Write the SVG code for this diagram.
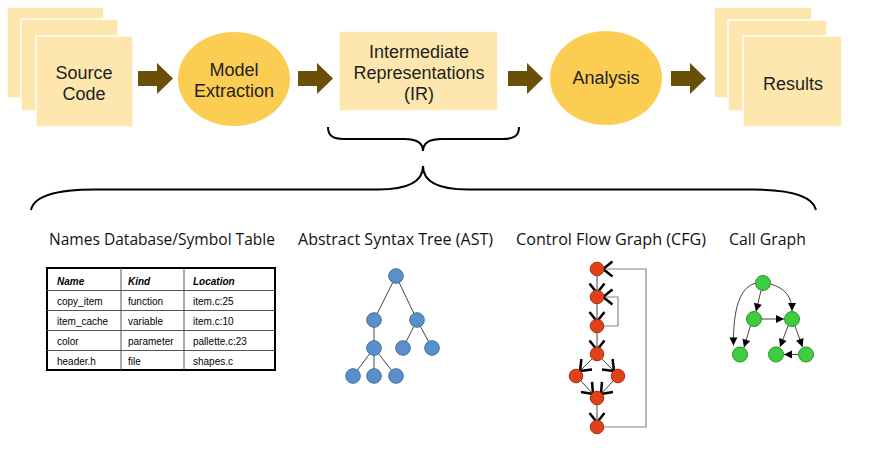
<svg xmlns="http://www.w3.org/2000/svg" width="871" height="452" viewBox="0 0 871 452">
<style>
.pale{fill:#fde7ae;stroke:#ffffff;stroke-width:1.5}
.ell{fill:#fbcd52}
.big{fill:#6a4f06}
.lbl{font-family:"Liberation Sans",Arial,sans-serif;font-size:18px;fill:#231f20;text-anchor:middle}
.hd{font-family:"Open Sans","Liberation Sans",sans-serif;font-size:15.5px;fill:#111}
.brace{fill:none;stroke:#000;stroke-width:2}
.tb{font-family:"Liberation Sans",Arial,sans-serif;font-size:10px;fill:#000}
.th{font-weight:bold;font-style:italic}
.ast{fill:#5b8fcb;stroke:#3c6ea8;stroke-width:1}
.cfg{fill:#e0401a;stroke:#a82e10;stroke-width:1}
.cg{fill:#3fcc3f;stroke:#2a8f2a;stroke-width:1}
.e{stroke:#444;stroke-width:1;fill:none}
.fb{stroke:#888;stroke-width:1.2;fill:none}
</style>
<defs>
<polygon id="arr" points="0,71 19,71 19,63 35,78.5 19,94 19,86 0,86"/>
<marker id="chev" markerUnits="userSpaceOnUse" markerWidth="24" markerHeight="24" refX="12" refY="12" orient="auto" viewBox="0 0 24 24" overflow="visible">
<path d="M2.5,4.5 L12,12 L2.5,19.5" fill="none" stroke="#000" stroke-width="2.5"/>
</marker>
<marker id="tri" markerUnits="userSpaceOnUse" markerWidth="10" markerHeight="10" refX="8" refY="4" orient="auto" viewBox="0 0 10 8" overflow="visible">
<path d="M0,0 L8,4 L0,8 Z" fill="#000"/>
</marker>
</defs>

<g id="source-code">
<rect class="pale" x="7" y="7" width="97" height="91"/>
<rect class="pale" x="21" y="19" width="97" height="92"/>
<rect class="pale" x="36" y="36" width="97" height="91"/>
<text class="lbl" x="84" y="79">Source</text>
<text class="lbl" x="84" y="100">Code</text>
</g>
<g id="model-extraction">
<ellipse class="ell" cx="234" cy="79" rx="56" ry="47"/>
<text class="lbl" x="234" y="76">Model</text>
<text class="lbl" x="234" y="97">Extraction</text>
</g>
<g id="ir">
<rect class="pale" x="339" y="31" width="159" height="80"/>
<text class="lbl" x="419" y="58">Intermediate</text>
<text class="lbl" x="419" y="79">Representations</text>
<text class="lbl" x="419" y="100">(IR)</text>
</g>
<g id="analysis">
<ellipse class="ell" cx="606" cy="78" rx="56" ry="47"/>
<text class="lbl" x="606" y="84">Analysis</text>
</g>
<g id="results">
<rect class="pale" x="714" y="7" width="98" height="91"/>
<rect class="pale" x="728" y="20" width="99" height="91"/>
<rect class="pale" x="743" y="36" width="99" height="91"/>
<text class="lbl" x="793" y="90">Results</text>
</g>

<g id="connectors">
<use href="#arr" class="big" x="138"/>
<use href="#arr" class="big" x="298"/>
<use href="#arr" class="big" x="508"/>
<use href="#arr" class="big" x="671"/>
<path class="brace" d="M328,127 C328,135 332,139 344,139 L404,139 C416,139 423,143 423,151 C423,143 430,139 442,139 L503,139 C515,139 519,135 519,127"/>
<path class="brace" d="M31,210 C34,196 55,189.5 95,189.5 L378,189.5 C410,189.5 423,181 423,166 C423,181 436,189.5 468,189.5 L752,189.5 C792,189.5 813,196 816,210"/>
</g>

<g id="headings">
<text class="hd" x="49" y="245" textLength="226" lengthAdjust="spacingAndGlyphs">Names Database/Symbol Table</text>
<text class="hd" x="298" y="245" textLength="195" lengthAdjust="spacingAndGlyphs">Abstract Syntax Tree (AST)</text>
<text class="hd" x="516" y="245" textLength="190" lengthAdjust="spacingAndGlyphs">Control Flow Graph (CFG)</text>
<text class="hd" x="729" y="245" textLength="77" lengthAdjust="spacingAndGlyphs">Call Graph</text>
</g>

<g id="symbol-table">
<rect x="47" y="268" width="228" height="102" fill="#fff" stroke="#000" stroke-width="2"/>
<g stroke="#555" stroke-width="1">
<line x1="47" y1="290.5" x2="275" y2="290.5"/>
<line x1="47" y1="310.5" x2="275" y2="310.5"/>
<line x1="47" y1="330.5" x2="275" y2="330.5"/>
<line x1="47" y1="350.5" x2="275" y2="350.5"/>
<line x1="121" y1="268" x2="121" y2="370"/>
<line x1="184" y1="268" x2="184" y2="370"/>
</g>
<text class="tb th" x="57" y="285">Name</text>
<text class="tb th" x="128" y="285">Kind</text>
<text class="tb th" x="193" y="285">Location</text>
<text class="tb" x="57" y="305">copy_item</text>
<text class="tb" x="128" y="305">function</text>
<text class="tb" x="193" y="305">item.c:25</text>
<text class="tb" x="57" y="325">item_cache</text>
<text class="tb" x="128" y="325">variable</text>
<text class="tb" x="193" y="325">item.c:10</text>
<text class="tb" x="57" y="345">color</text>
<text class="tb" x="128" y="345">parameter</text>
<text class="tb" x="193" y="345">pallette.c:23</text>
<text class="tb" x="57" y="365">header.h</text>
<text class="tb" x="128" y="365">file</text>
<text class="tb" x="193" y="365">shapes.c</text>
</g>

<g id="ast">
<g class="e">
<line x1="396" y1="276" x2="374" y2="320"/>
<line x1="396" y1="276" x2="417" y2="320"/>
<line x1="374" y1="320" x2="374" y2="348"/>
<line x1="417" y1="320" x2="403" y2="348"/>
<line x1="417" y1="320" x2="432" y2="348"/>
<line x1="374" y1="348" x2="353" y2="376"/>
<line x1="374" y1="348" x2="374" y2="376"/>
<line x1="374" y1="348" x2="396" y2="376"/>
</g>
<circle class="ast" cx="396" cy="276" r="7.3"/>
<circle class="ast" cx="374" cy="320" r="7.3"/>
<circle class="ast" cx="417" cy="320" r="7.3"/>
<circle class="ast" cx="374" cy="348" r="7.3"/>
<circle class="ast" cx="403" cy="348" r="7.3"/>
<circle class="ast" cx="432" cy="348" r="7.3"/>
<circle class="ast" cx="353" cy="376" r="7.3"/>
<circle class="ast" cx="374" cy="376" r="7.3"/>
<circle class="ast" cx="396" cy="376" r="7.3"/>
</g>

<g id="cfg">
<path class="fb" d="M604,326 L618,326 L618,297 L603,297" marker-end="url(#chev)"/>
<path class="fb" d="M604,427 L646,427 L646,269 L603,269" marker-end="url(#chev)"/>
<g class="e">
<line x1="597" y1="276" x2="597" y2="293" marker-end="url(#chev)"/>
<line x1="597" y1="304" x2="597" y2="321.5" marker-end="url(#chev)"/>
<line x1="597" y1="333" x2="597" y2="350" marker-end="url(#chev)"/>
<line x1="592" y1="359" x2="580" y2="371" marker-end="url(#chev)"/>
<line x1="602" y1="359" x2="614" y2="371" marker-end="url(#chev)"/>
<line x1="581" y1="381" x2="593" y2="394" marker-end="url(#chev)"/>
<line x1="613" y1="381" x2="601" y2="394" marker-end="url(#chev)"/>
<line x1="597" y1="405" x2="597" y2="422.5" marker-end="url(#chev)"/>
</g>
<circle class="cfg" cx="597" cy="269" r="6.8"/>
<circle class="cfg" cx="597" cy="297" r="6.8"/>
<circle class="cfg" cx="597" cy="326" r="6.8"/>
<circle class="cfg" cx="597" cy="354" r="6.8"/>
<circle class="cfg" cx="576" cy="376" r="6.8"/>
<circle class="cfg" cx="618" cy="376" r="6.8"/>
<circle class="cfg" cx="597" cy="398" r="6.8"/>
<circle class="cfg" cx="597" cy="427" r="6.8"/>
</g>

<g id="call-graph">
<g class="e">
<path d="M756,283 C740,287 733,308 733.5,345.5" marker-end="url(#tri)"/>
<path d="M770.5,284 C785,288 792,297 792,311" marker-end="url(#tri)"/>
<line x1="761" y1="290.5" x2="756" y2="311.5" marker-end="url(#tri)"/>
<line x1="761.5" y1="319" x2="784" y2="319" marker-end="url(#tri)"/>
<line x1="750.5" y1="325.5" x2="744" y2="347.5" marker-end="url(#tri)"/>
<line x1="788" y1="326" x2="780" y2="347" marker-end="url(#tri)"/>
<line x1="795" y1="326" x2="802.5" y2="347" marker-end="url(#tri)"/>
<line x1="798" y1="354.5" x2="784" y2="354.5" marker-end="url(#tri)"/>
</g>
<circle class="cg" cx="763" cy="283" r="7.5"/>
<circle class="cg" cx="754" cy="319" r="7.5"/>
<circle class="cg" cx="792" cy="319" r="7.5"/>
<circle class="cg" cx="740" cy="354.5" r="7.5"/>
<circle class="cg" cx="776" cy="354.5" r="7.5"/>
<circle class="cg" cx="806" cy="354.5" r="7.5"/>
</g>
</svg>
